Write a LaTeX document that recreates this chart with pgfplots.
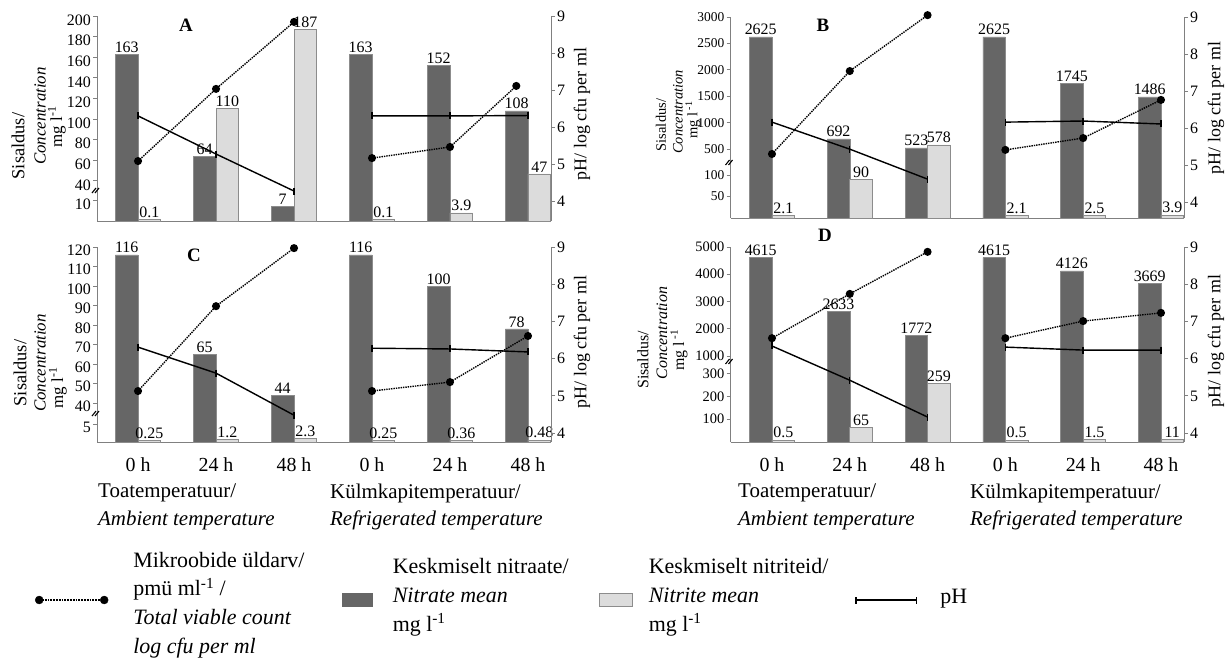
\documentclass[border=0pt]{standalone}
\usepackage{fontspec}
\setmainfont{Liberation Serif}
\usepackage{pgfplots}
\usepackage{pgfplotstable}
\pgfplotsset{compat=1.18}

\definecolor{darkbar}{RGB}{102,102,102}
\definecolor{lightbar}{RGB}{220,220,220}
\definecolor{lightedge}{RGB}{140,140,140}
\definecolor{axgray}{RGB}{128,128,128}

% display height (bar axis units = px above baseline), label = real value
\pgfplotstableread{
x nit nitl nti ntil
0 167 163 1.5 0.1
1 65 64 112.3 110
2 14.7 7 191.6 187
3 167 163 1.5 0.1
4 155.6 152 8.2 3.9
5 110.2 108 47.2 47
}\barA
\pgfplotstableread{
x nit nitl nti ntil
0 181.2 2625 2.5 2.1
1 79.1 692 38.7 90
2 70.2 523 73.1 578
3 181.2 2625 2.5 2.1
4 134.7 1745 2.5 2.5
5 121.1 1486 3 3.9
}\barB
\pgfplotstableread{
x nit nitl nti ntil
0 187.2 116 1.5 0.25
1 87.75 65 2.5 1.2
2 46.8 44 3.5 2.3
3 187.2 116 1.5 0.25
4 156 100 1.8 0.36
5 113.1 78 2 0.48
}\barC
\pgfplotstableread{
x nit nitl nti ntil
0 184.5 4615 2 0.5
1 130.5 2633 14.8 65
2 107 1772 59 259
3 184.5 4615 2 0.5
4 171.2 4126 2.5 1.5
5 158.7 3669 2.5 11
}\barD

\pgfplotsset{
  barax/.style={
    scale only axis, ybar=0pt, bar width=0.29,
    axis y line*=left, axis x line*=bottom,
    ymin=0, enlargelimits=false, clip=false,
    axis line style={draw=axgray, line width=0.8bp},
    ytick style={draw=axgray, line width=0.8bp},
    tick align=outside, major tick length=4bp,
    xtick style={draw=none},
    yticklabel style={text=black, inner sep=2bp},
    nodes near coords, point meta=explicit symbolic,
    every node near coord/.append style={font=\fontsize{16}{16}\selectfont, text=black, inner sep=1.5bp},
  },
  lineax/.style={
    scale only axis, axis y line*=right, axis x line=none,
    ymax=9, ytick={4,5,6,7,8,9}, enlargelimits=false, clip=false,
    axis line style={draw=axgray, line width=0.8bp},
    ytick style={draw=axgray, line width=0.8bp},
    tick align=outside, major tick length=4bp,
    /pgf/number format/assume math mode=true,
    yticklabel style={font=\fontsize{16}{16}\selectfont, text=black, inner sep=2bp},
  },
  nitr/.style={fill=darkbar, draw=darkbar!75!white, line width=0.5bp},
  nitt/.style={fill=lightbar, draw=lightedge, line width=0.6bp},
  tvc/.style={black, densely dotted, line width=1.4bp, mark=*, mark size=3.3bp, mark options={solid}},
  phl/.style={black, line width=1.4bp, mark=|, mark size=3.5bp, mark options={solid, line width=1.4bp}},
}

\newcommand{\ttlb}{\fontsize{18.5}{18.5}\selectfont}
\newcommand{\ttl}{\fontsize{17}{17}\selectfont}
\newcommand{\ttls}{\fontsize{14.5}{14.5}\selectfont}
\newcommand{\ttld}{\fontsize{16}{16}\selectfont}
\newcommand{\rtl}{\fontsize{18}{18}\selectfont}
\newcommand{\grp}{\fontsize{21}{21}\selectfont}

\begin{document}
\begin{tikzpicture}
\useasboundingbox (0bp,0bp) rectangle (1229bp,-661bp);

% ================= Panel A =================
\begin{axis}[barax, at={(97bp,-221bp)}, anchor=south west, width=454bp, height=205bp,
  xmin=-0.526, xmax=5.295, xtick=\empty,
  ymax=205, ytick={21,40.2,60.8,81.4,102,122.6,143.2,163.8,184.4,205},
  yticklabels={10,40,60,80,100,120,140,160,180,200},
  yticklabel style={font=\fontsize{16}{16}\selectfont, yshift=-4bp}]
\addplot[nitr] table[x=x, y=nit, meta=nitl]{\barA};
\addplot[nitt] table[x=x, y=nti, meta=ntil]{\barA};
\path (axis cs:-0.526,31) coordinate (bk);
\draw[black, line width=1.1bp] ([shift={(-5bp,-3bp)}]bk) -- ++(4bp,5bp) ([shift={(-2bp,-3bp)}]bk) -- ++(4bp,5bp);
\end{axis}
\begin{axis}[lineax, at={(97bp,-221bp)}, anchor=south west, width=454bp, height=205bp,
  xmin=-0.526, xmax=5.295, ymin=3.46]
\addplot[tvc] coordinates {(0,5.08) (1,7.03) (2,8.84)};
\addplot[tvc] coordinates {(3,5.16) (4,5.46) (4.85,7.11)};
\addplot[phl] coordinates {(0,6.30) (1,5.27) (2,4.27)};
\addplot[phl] coordinates {(3,6.30) (4,6.30) (5,6.31)};
\end{axis}

% ================= Panel B =================
\begin{axis}[barax, at={(730.5bp,-218bp)}, anchor=south west, width=453.5bp, height=201bp,
  xmin=-0.533, xmax=5.296, xtick=\empty,
  ymax=201, ytick={21.5,43,69,95.4,121.8,148.2,174.6,201},
  yticklabels={50,100,500,1000,1500,2000,2500,3000},
  yticklabel style={font=\fontsize{13.5}{13.5}\selectfont}]
\addplot[nitr] table[x=x, y=nit, meta=nitl]{\barB};
\addplot[nitt] table[x=x, y=nti, meta=ntil]{\barB};
\path (axis cs:-0.533,56) coordinate (bk);
\draw[black, line width=1.1bp] ([shift={(-5bp,-3bp)}]bk) -- ++(4bp,5bp) ([shift={(-2bp,-3bp)}]bk) -- ++(4bp,5bp);
\end{axis}
\begin{axis}[lineax, at={(730.5bp,-218bp)}, anchor=south west, width=453.5bp, height=201bp,
  xmin=-0.533, xmax=5.296, ymin=3.57]
\addplot[tvc] coordinates {(0,5.30) (1,7.54) (2,9.05)};
\addplot[tvc] coordinates {(3,5.41) (4,5.73) (5,6.76)};
\addplot[phl] coordinates {(0,6.16) (1,5.43) (2,4.62)};
\addplot[phl] coordinates {(3,6.16) (4,6.19) (5,6.11)};
\end{axis}

% ================= Panel C =================
\begin{axis}[barax, at={(97bp,-442bp)}, anchor=south west, width=454bp, height=195bp,
  xmin=-0.526, xmax=5.295,
  xtick={0,1,2,3,4,5}, xticklabels={0 h,24 h,48 h,0 h,24 h,48 h},
  xticklabel style={font=\fontsize{20}{20}\selectfont, yshift=-8bp},
  ymax=195, ytick={18,39,58.5,78,97.5,117,136.5,156,175.5,195},
  yticklabels={5,40,50,60,70,80,90,100,110,120},
  yticklabel style={font=\fontsize{16}{16}\selectfont, yshift=-3bp}]
\addplot[nitr] table[x=x, y=nit, meta=nitl]{\barC};
\addplot[nitt] table[x=x, y=nti, meta=ntil]{\barC};
\path (axis cs:-0.526,29) coordinate (bk);
\draw[black, line width=1.1bp] ([shift={(-5bp,-3bp)}]bk) -- ++(4bp,5bp) ([shift={(-2bp,-3bp)}]bk) -- ++(4bp,5bp);
\end{axis}
\begin{axis}[lineax, at={(97bp,-442bp)}, anchor=south west, width=454bp, height=195bp,
  xmin=-0.526, xmax=5.295, ymin=3.76]
\addplot[tvc] coordinates {(0,5.13) (1,7.41) (2,8.97)};
\addplot[tvc] coordinates {(3,5.13) (4,5.37) (5,6.61)};
\addplot[phl] coordinates {(0,6.31) (1,5.61) (2,4.48)};
\addplot[phl] coordinates {(3,6.28) (4,6.26) (5,6.18)};
\end{axis}

% ================= Panel D =================
\begin{axis}[barax, at={(730.5bp,-442bp)}, anchor=south west, width=453.5bp, height=195bp,
  xmin=-0.533, xmax=5.296,
  xtick={0,1,2,3,4,5}, xticklabels={0 h,24 h,48 h,0 h,24 h,48 h},
  xticklabel style={font=\fontsize{20}{20}\selectfont, yshift=-8bp},
  ymax=195, ytick={22.8,45.6,68.4,86,113.25,140.5,167.75,195},
  yticklabels={100,200,300,1000,2000,3000,4000,5000},
  yticklabel style={font=\fontsize{14.5}{14.5}\selectfont}]
\addplot[nitr] table[x=x, y=nit, meta=nitl]{\barD};
\addplot[nitt] table[x=x, y=nti, meta=ntil]{\barD};
\path (axis cs:-0.533,81) coordinate (bk);
\draw[black, line width=1.1bp] ([shift={(-5bp,-3bp)}]bk) -- ++(4bp,5bp) ([shift={(-2bp,-3bp)}]bk) -- ++(4bp,5bp);
\end{axis}
\begin{axis}[lineax, at={(730.5bp,-442bp)}, anchor=south west, width=453.5bp, height=195bp,
  xmin=-0.533, xmax=5.296, ymin=3.76]
\addplot[tvc] coordinates {(0,6.55) (1,7.74) (2,8.87)};
\addplot[tvc] coordinates {(3,6.55) (4,7.01) (5,7.23)};
\addplot[phl] coordinates {(0,6.34) (1,5.42) (2,4.43)};
\addplot[phl] coordinates {(3,6.31) (4,6.23) (5,6.23)};
\end{axis}

% ================= Legend =================
\begin{axis}[hide axis, scale only axis, width=10bp, height=10bp, at={(35bp,-600bp)}, anchor=south west,
  xmin=0, xmax=1, ymin=0, ymax=1,
  legend columns=4, legend cell align=left,
  legend style={at={(0,0)}, anchor=west, draw=none, fill=none, inner sep=0pt, outer sep=0pt,
    column sep=0pt, row sep=0pt, font=\fontsize{22}{29}\selectfont,
    nodes={inner sep=0pt}, cells={anchor=west}}]
\addlegendimage{legend image code/.code={
  \draw[black, densely dotted, line width=1.8bp] (4bp,0bp) -- (69bp,0bp);
  \fill[black] (4bp,0bp) circle (4bp);
  \fill[black] (69bp,0bp) circle (4bp);}}
\addlegendentry{\makebox[234bp][l]{\hspace{25bp}\raisebox{-10.5bp}[0pt][0pt]{\begin{tabular}{@{}l@{}}Mikroobide üldarv/\\pmü ml\textsuperscript{-1} /\\\textit{Total viable count}\\\textit{log cfu per ml}\end{tabular}}}}
\addlegendimage{legend image code/.code={
  \fill[darkbar] (0bp,-6.5bp) rectangle (30bp,6.5bp);}}
\addlegendentry{\makebox[226bp][l]{\hspace{20bp}\raisebox{-2.5bp}[0pt][0pt]{\begin{tabular}{@{}l@{}}Keskmiselt nitraate/\\\textit{Nitrate mean}\\mg l\textsuperscript{-1}\end{tabular}}}}
\addlegendimage{legend image code/.code={
  \filldraw[fill=lightbar, draw=lightedge, line width=0.8bp] (0.4bp,-6.5bp) rectangle (33.6bp,6.5bp);}}
\addlegendentry{\makebox[221bp][l]{\hspace{16bp}\raisebox{-2.5bp}[0pt][0pt]{\begin{tabular}{@{}l@{}}Keskmiselt nitriteid/\\\textit{Nitrite mean}\\mg l\textsuperscript{-1}\end{tabular}}}}
\addlegendimage{legend image code/.code={
  \draw[black, line width=2.6bp] (0bp,0bp) -- (62bp,0bp);
  \draw[black, line width=1.5bp] (0.75bp,-3.5bp) -- (0.75bp,3.5bp) (61.25bp,-3.5bp) -- (61.25bp,3.5bp);}}
\addlegendentry{\hspace{22bp}\raisebox{-4.7bp}[0pt][0pt]{pH}}
\end{axis}

% ================= Titles and labels =================
\node[font=\bfseries\fontsize{19}{19}\selectfont] at (186bp,-25bp) {A};
\node[font=\bfseries\fontsize{19}{19}\selectfont] at (823bp,-25bp) {B};
\node[font=\bfseries\fontsize{19}{19}\selectfont] at (194bp,-255bp) {C};
\node[font=\bfseries\fontsize{19}{19}\selectfont] at (825bp,-235bp) {D};

% left titles
\node[rotate=90, font=\ttlb] at (18bp,-146bp) {Sisaldus/};
\node[rotate=90, font=\ttl\itshape] at (40bp,-116bp) {Concentration};
\node[rotate=90, font=\ttl] at (57bp,-127bp) {mg l\textsuperscript{-1}};
\node[rotate=90, font=\ttls] at (661bp,-125bp) {Sisaldus/};
\node[rotate=90, font=\ttls\itshape] at (678bp,-112bp) {Concentration};
\node[rotate=90, font=\ttls] at (693bp,-120bp) {mg l\textsuperscript{ -1}};
\node[rotate=90, font=\ttlb] at (20bp,-373bp) {Sisaldus/};
\node[rotate=90, font=\ttl\itshape] at (40bp,-363bp) {Concentration};
\node[rotate=90, font=\ttl] at (58bp,-388bp) {mg l\textsuperscript{-1}};
\node[rotate=90, font=\ttld] at (643bp,-360bp) {Sisaldus/};
\node[rotate=90, font=\ttld\itshape] at (662bp,-333bp) {Concentration};
\node[rotate=90, font=\ttld] at (679bp,-350bp) {mg l\textsuperscript{ -1}};

% right titles
\node[rotate=90, font=\rtl] at (582bp,-114bp) {pH/ log cfu per ml};
\node[rotate=90, font=\rtl] at (1216bp,-108bp) {pH/ log cfu per ml};
\node[rotate=90, font=\rtl] at (582bp,-342bp) {pH/ log cfu per ml};
\node[rotate=90, font=\rtl] at (1216bp,-341bp) {pH/ log cfu per ml};

% group labels
\node[anchor=west, font=\grp, inner sep=0pt] at (98bp,-493bp) {Toatemperatuur/};
\node[anchor=west, font=\grp\itshape, inner sep=0pt] at (98bp,-520bp) {Ambient temperature};
\node[anchor=west, font=\grp, inner sep=0pt] at (330bp,-493bp) {Külmkapitemperatuur/};
\node[anchor=west, font=\grp\itshape, inner sep=0pt] at (330bp,-520bp) {Refrigerated temperature};
\node[anchor=west, font=\grp, inner sep=0pt] at (738bp,-493bp) {Toatemperatuur/};
\node[anchor=west, font=\grp\itshape, inner sep=0pt] at (738bp,-520bp) {Ambient temperature};
\node[anchor=west, font=\grp, inner sep=0pt] at (970bp,-493bp) {Külmkapitemperatuur/};
\node[anchor=west, font=\grp\itshape, inner sep=0pt] at (970bp,-520bp) {Refrigerated temperature};
\end{tikzpicture}
\end{document}
